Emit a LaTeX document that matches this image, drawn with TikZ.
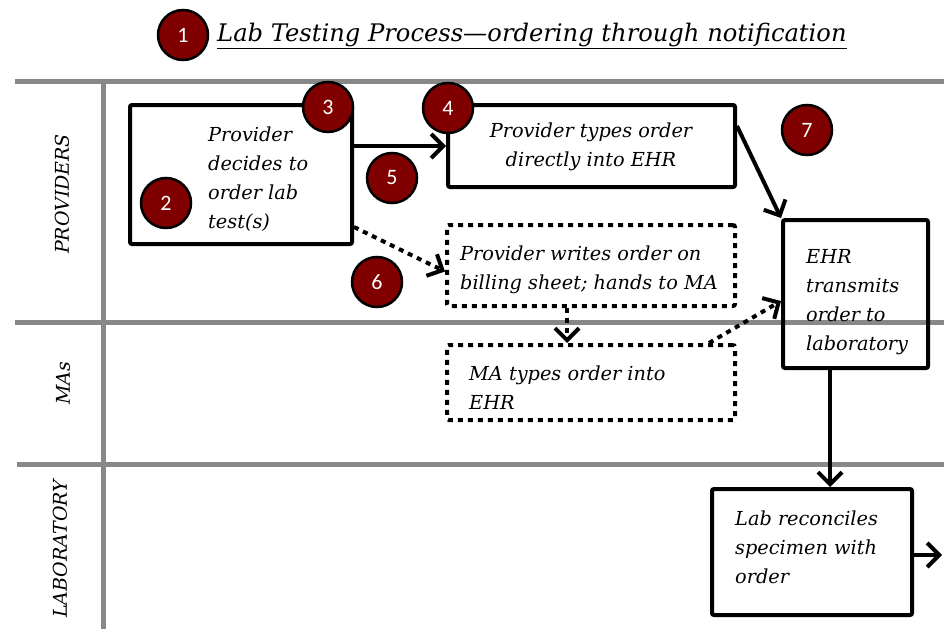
\documentclass[tikz,border=0pt]{standalone}
\usepackage{fontspec}
\setmainfont{DejaVu Serif}
\newfontfamily\numfont{Carlito}
\usetikzlibrary{arrows.meta,calc}
\definecolor{lanegray}{RGB}{136,136,136}
\definecolor{badge}{RGB}{128,0,0}
\newcommand{\boxtext}[1]{\parbox[t]{320pt}{\raggedright #1}}
\newcommand{\boxtextc}[1]{\parbox[t]{320pt}{\centering #1}}
\tikzset{
 lane/.style={draw=lanegray, line width=5pt},
 lanelabel/.style={rotate=90, font=\fontsize{19}{22}\selectfont\itshape, inner sep=0pt},
 stepbox/.style={draw, line width=4pt, rounded corners=2pt, inner sep=0pt},
 dotbox/.style={stepbox, dash pattern=on 5pt off 5pt},
 bodytext/.style={font=\fontsize{19.3}{29}\selectfont\itshape, inner sep=0pt, anchor=base west},
 badgec/.style={circle, draw=black, line width=2.5pt, fill=badge, text=white, minimum size=50pt, inner sep=0pt, font=\numfont\fontsize{22}{24}\selectfont},
 arr/.style={line width=4pt, -{Straight Barb[length=12pt,width=24pt,line width=4pt]}},
 dotarr/.style={arr, dash pattern=on 5pt off 5pt},
}
\begin{document}
\begin{tikzpicture}[x=1pt,y=-1pt]
\useasboundingbox (0,0) rectangle (944,629);
% lanes
\coordinate (l1a) at (15,81);  \coordinate (l1b) at (944,81);
\coordinate (l2a) at (15,322); \coordinate (l2b) at (944,322);
\coordinate (l3a) at (17,464); \coordinate (l3b) at (944,464);
\coordinate (vla) at (103,81); \coordinate (vlb) at (103,629);
\draw[lane] (l1a) -- (l1b);
\draw[lane] (l2a) -- (l2b);
\draw[lane] (l3a) -- (l3b);
\draw[lane] (vla) -- (vlb);
\node[lanelabel] (lp) at (62,194) {PROVIDERS};
\node[lanelabel] (lm) at (63,383) {MAs};
\node[lanelabel] (ll) at (60,549) {LABORATORY};
% title
\node[font=\fontsize{24.2}{28}\selectfont\itshape, anchor=base west, inner sep=0pt] (title) at (217,41) {\underline{Lab Testing Process—ordering through notification}};
% boxes
\node[stepbox, minimum width=222pt, minimum height=139pt] (A) at (241,174.5) {};
\node[stepbox, minimum width=287pt, minimum height=82pt] (B) at (591.5,146) {};
\node[dotbox, minimum width=288pt, minimum height=81pt] (C) at (591,265.5) {};
\node[dotbox, minimum width=288pt, minimum height=75pt] (D) at (591,382.5) {};
\node[stepbox, minimum width=145pt, minimum height=148pt] (E) at (855.5,294) {};
\node[stepbox, minimum width=200pt, minimum height=126pt] (F) at (812,552) {};
% texts
\node[bodytext] (At) at (208,141) {\boxtext{Provider\\decides to\\order lab\\test(s)}};
\node[bodytext, anchor=base] (Bt) at (591,137) {\boxtextc{Provider types order\\directly into EHR}};
\node[bodytext] (Ct) at (460,260) {\boxtext{Provider writes order on\\billing sheet; hands to MA}};
\node[bodytext] (Dt) at (469,380) {\boxtext{MA types order into\\EHR}};
\node[bodytext] (Et) at (806,263) {\boxtext{EHR\\transmits\\order to\\laboratory}};
\node[bodytext] (Ft) at (735,525) {\boxtext{Lab reconciles\\specimen with\\order}};
% connectors
\draw[arr] (A.east |- B.west) -- (B.west);
\coordinate (a6) at ($(A.south east)+(0,-19)$);
\draw[dotarr] (a6) -- ($(C.west)+(0,6)$);
\coordinate (c1) at ($(C.south)+(-24,0)$);
\draw[dotarr] (c1) -- (c1 |- D.north);
\coordinate (d1) at ($(D.north east)+(-28,0)$);
\draw[dotarr] (d1) -- ($(E.west)+(0,7)$);
\coordinate (b1) at ($(B.north east)+(0,23)$);
\draw[arr] (b1) -- (E.north west);
\coordinate (e1) at ($(E.south west)+(49,0)$);
\draw[arr] (e1) -- (e1 |- F.north);
\coordinate (fout) at (942,555);
\draw[arr] (F.east |- fout) -- (fout);
% badges
\node[badgec] (n1) at (183,35) {1};
\node[badgec] (n2) at (166,203) {2};
\node[badgec] (n3) at (328,107) {3};
\node[badgec] (n4) at (448,108) {4};
\node[badgec] (n5) at (392,178) {5};
\node[badgec] (n6) at (377,282) {6};
\node[badgec] (n7) at (807,130) {7};
\end{tikzpicture}
\end{document}
